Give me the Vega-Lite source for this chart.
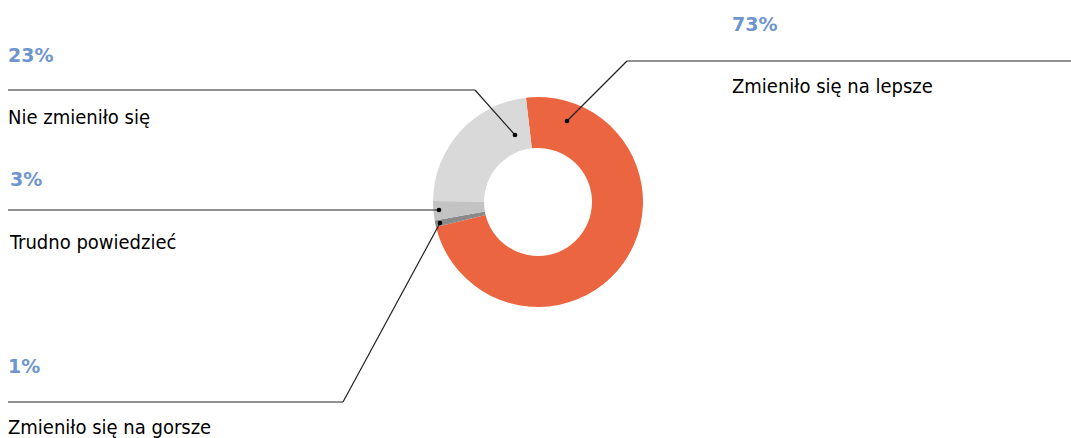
{
  "$schema": "https://vega.github.io/schema/vega-lite/v6.json",
  "width": 1066,
  "height": 404,
  "autosize": {"type": "none"},
  "padding": {"left": 5, "top": 0, "right": 0, "bottom": 34},
  "background": "white",
  "config": {"view": {"stroke": null}},
  "datasets": {
    "slices": [
      {"kategoria": "Zmieniło się na lepsze", "udzial": 73, "kolejnosc": 1},
      {"kategoria": "Zmieniło się na gorsze", "udzial": 1, "kolejnosc": 2},
      {"kategoria": "Trudno powiedzieć", "udzial": 3, "kolejnosc": 3},
      {"kategoria": "Nie zmieniło się", "udzial": 23, "kolejnosc": 4}
    ],
    "segments": [
      {"x": 627, "y": 61, "x2": 1071, "y2": 61},
      {"x": 627, "y": 61, "x2": 567, "y2": 121},
      {"x": 8, "y": 90, "x2": 475, "y2": 90},
      {"x": 475, "y": 90, "x2": 515, "y2": 135},
      {"x": 8, "y": 210, "x2": 439, "y2": 210},
      {"x": 8, "y": 402, "x2": 343, "y2": 402},
      {"x": 343, "y": 402, "x2": 440, "y2": 223}
    ],
    "dots": [
      {"x": 567, "y": 121},
      {"x": 515, "y": 135},
      {"x": 439, "y": 210},
      {"x": 440, "y": 223}
    ],
    "texts": [
      {"tekst": "73%", "rodzaj": "pct", "x": 732, "y": 31},
      {"tekst": "Zmieniło się na lepsze", "rodzaj": "label", "x": 732, "y": 93},
      {"tekst": "23%", "rodzaj": "pct", "x": 8, "y": 62},
      {"tekst": "Nie zmieniło się", "rodzaj": "label", "x": 8, "y": 124},
      {"tekst": "3%", "rodzaj": "pct", "x": 10, "y": 186},
      {"tekst": "Trudno powiedzieć", "rodzaj": "label", "x": 10, "y": 249},
      {"tekst": "1%", "rodzaj": "pct", "x": 8, "y": 373},
      {"tekst": "Zmieniło się na gorsze", "rodzaj": "label", "x": 8, "y": 434}
    ]
  },
  "layer": [
    {
      "data": {"name": "slices"},
      "mark": {"type": "arc", "radius": 105, "radius2": 54},
      "encoding": {
        "theta": {"field": "udzial", "type": "quantitative", "stack": true, "scale": {"range": [-0.1152, 6.168]}},
        "order": {"field": "kolejnosc", "type": "quantitative"},
        "color": {
          "field": "kategoria",
          "type": "nominal",
          "scale": {
            "domain": ["Zmieniło się na lepsze", "Zmieniło się na gorsze", "Trudno powiedzieć", "Nie zmieniło się"],
            "range": ["#EC6541", "#8A8A8A", "#C3C3C3", "#D9D9D9"]
          },
          "legend": null
        }
      }
    },
    {
      "data": {"name": "segments"},
      "mark": {"type": "rule", "color": "#222222", "strokeWidth": 1.2},
      "encoding": {
        "x": {"field": "x", "type": "quantitative", "scale": {"domain": [5, 1071], "nice": false, "zero": false}, "axis": null},
        "y": {"field": "y", "type": "quantitative", "scale": {"domain": [0, 404], "nice": false, "zero": false, "reverse": true}, "axis": null},
        "x2": {"field": "x2"},
        "y2": {"field": "y2"}
      }
    },
    {
      "data": {"name": "dots"},
      "mark": {"type": "point", "filled": true, "color": "#000000", "size": 22, "opacity": 1},
      "encoding": {
        "x": {"field": "x", "type": "quantitative", "scale": {"domain": [5, 1071], "nice": false, "zero": false}, "axis": null},
        "y": {"field": "y", "type": "quantitative", "scale": {"domain": [0, 404], "nice": false, "zero": false, "reverse": true}, "axis": null}
      }
    },
    {
      "data": {"name": "texts"},
      "transform": [{"filter": "datum.rodzaj == 'pct'"}],
      "mark": {"type": "text", "align": "left", "baseline": "alphabetic", "font": "DejaVu Sans", "fontWeight": "bold", "fontSize": 19, "color": "#6F95CF"},
      "encoding": {
        "x": {"field": "x", "type": "quantitative", "scale": {"domain": [5, 1071], "nice": false, "zero": false}, "axis": null},
        "y": {"field": "y", "type": "quantitative", "scale": {"domain": [0, 404], "nice": false, "zero": false, "reverse": true}, "axis": null},
        "text": {"field": "tekst", "type": "nominal"}
      }
    },
    {
      "data": {"name": "texts"},
      "transform": [{"filter": "datum.rodzaj == 'label'"}],
      "mark": {"type": "text", "align": "left", "baseline": "alphabetic", "font": "'Liberation Sans Narrow', 'DejaVu Sans Condensed', Roboto", "fontWeight": "normal", "fontSize": 20, "color": "#000000"},
      "encoding": {
        "x": {"field": "x", "type": "quantitative", "scale": {"domain": [5, 1071], "nice": false, "zero": false}, "axis": null},
        "y": {"field": "y", "type": "quantitative", "scale": {"domain": [0, 404], "nice": false, "zero": false, "reverse": true}, "axis": null},
        "text": {"field": "tekst", "type": "nominal"}
      }
    }
  ]
}
